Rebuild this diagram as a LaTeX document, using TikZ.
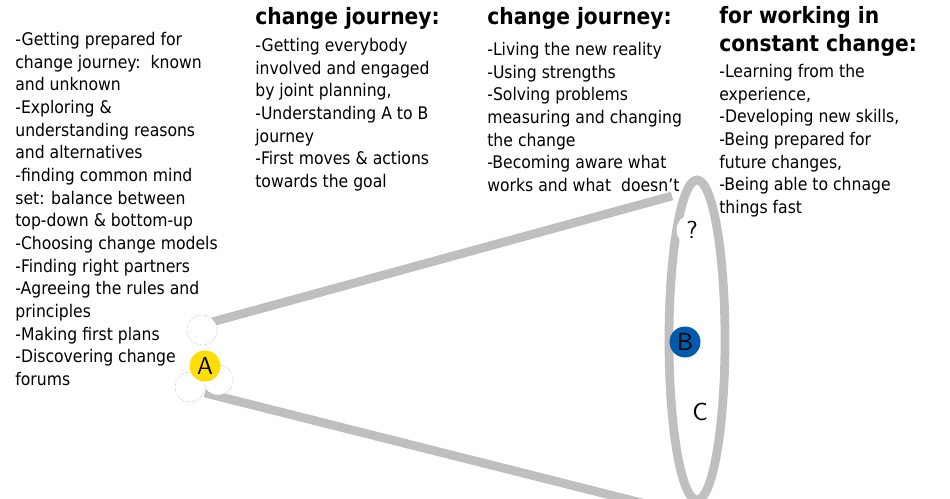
\documentclass[tikz,border=0pt]{standalone}
\usepackage{fontspec}
\setmainfont{DejaVu Sans Condensed}
\begin{document}
\begin{tikzpicture}[x=0.02cm,y=-0.02cm,
  body/.style={anchor=north west,inner sep=0pt,align=left,font=\fontsize{9.9}{12.9}\selectfont},
  head/.style={anchor=north west,inner sep=0pt,align=left,font=\fontsize{12.8}{15.8}\selectfont\bfseries},
  cone/.style={draw=black!25,line width=5pt},
  ghost/.style={draw=black!30,densely dotted,fill=white},
  letter/.style={circle,minimum size=0.62cm,inner sep=0pt,font=\sffamily\fontsize{14}{14}\selectfont}]
\useasboundingbox (0,0) rectangle (950,499);
\begin{scope}
\clip (0,0) rectangle (950,499);
\draw[cone] (697,340) ellipse [x radius=28, y radius=160];
\coordinate (u1) at (212,322); \coordinate (u2) at (672,196);
\coordinate (l1) at (205,393); \coordinate (l2) at (650,505);
\draw[cone] (u1) -- (u2);
\draw[cone] (l1) -- (l2);
\end{scope}
\draw[ghost] (202,330) circle (15);
\draw[ghost] (218,380) circle (15);
\draw[ghost] (190,387) circle (15);
\node[letter,fill=yellow!80!orange] (A) at (205,366) {A};
\node[letter,fill={rgb,255:red,0;green,90;blue,170}] (B) at (685,342) {B};
\node[letter,fill=white] (Q) at (692,230) {?};
\node[letter,fill=white] (C) at (700,412) {C};

\node[body] (c1) at (15,32) {-Getting prepared for\\change journey:\ \ known\\and unknown\\-Exploring \&\\understanding reasons\\and alternatives\\-finding common mind\\set: balance between\\top-down \& bottom-up\\-Choosing change models\\-Finding right partners\\-Agreeing the rules and\\principles\\-Making first plans\\-Discovering change\\forums};
\node[head] (h2) at (255,7) {change journey:};
\node[body] (c2) at (255,38) {-Getting everybody\\involved and engaged\\by joint planning,\\-Understanding A to B\\journey\\-First moves \& actions\\towards the goal};
\node[head] (h3) at (487,7) {change journey:};
\node[body] (c3) at (487,42) {-Living the new reality\\-Using strengths\\-Solving problems\\measuring and changing\\the change\\-Becoming aware what\\works and what\ \ doesn't};
\node[head] (h4) at (719,6) {for working in\\constant change:};
\node[body] (c4) at (719,64) {-Learning from the\\experience,\\-Developing new skills,\\-Being prepared for\\future changes,\\-Being able to chnage\\things fast};
\end{tikzpicture}
\end{document}
